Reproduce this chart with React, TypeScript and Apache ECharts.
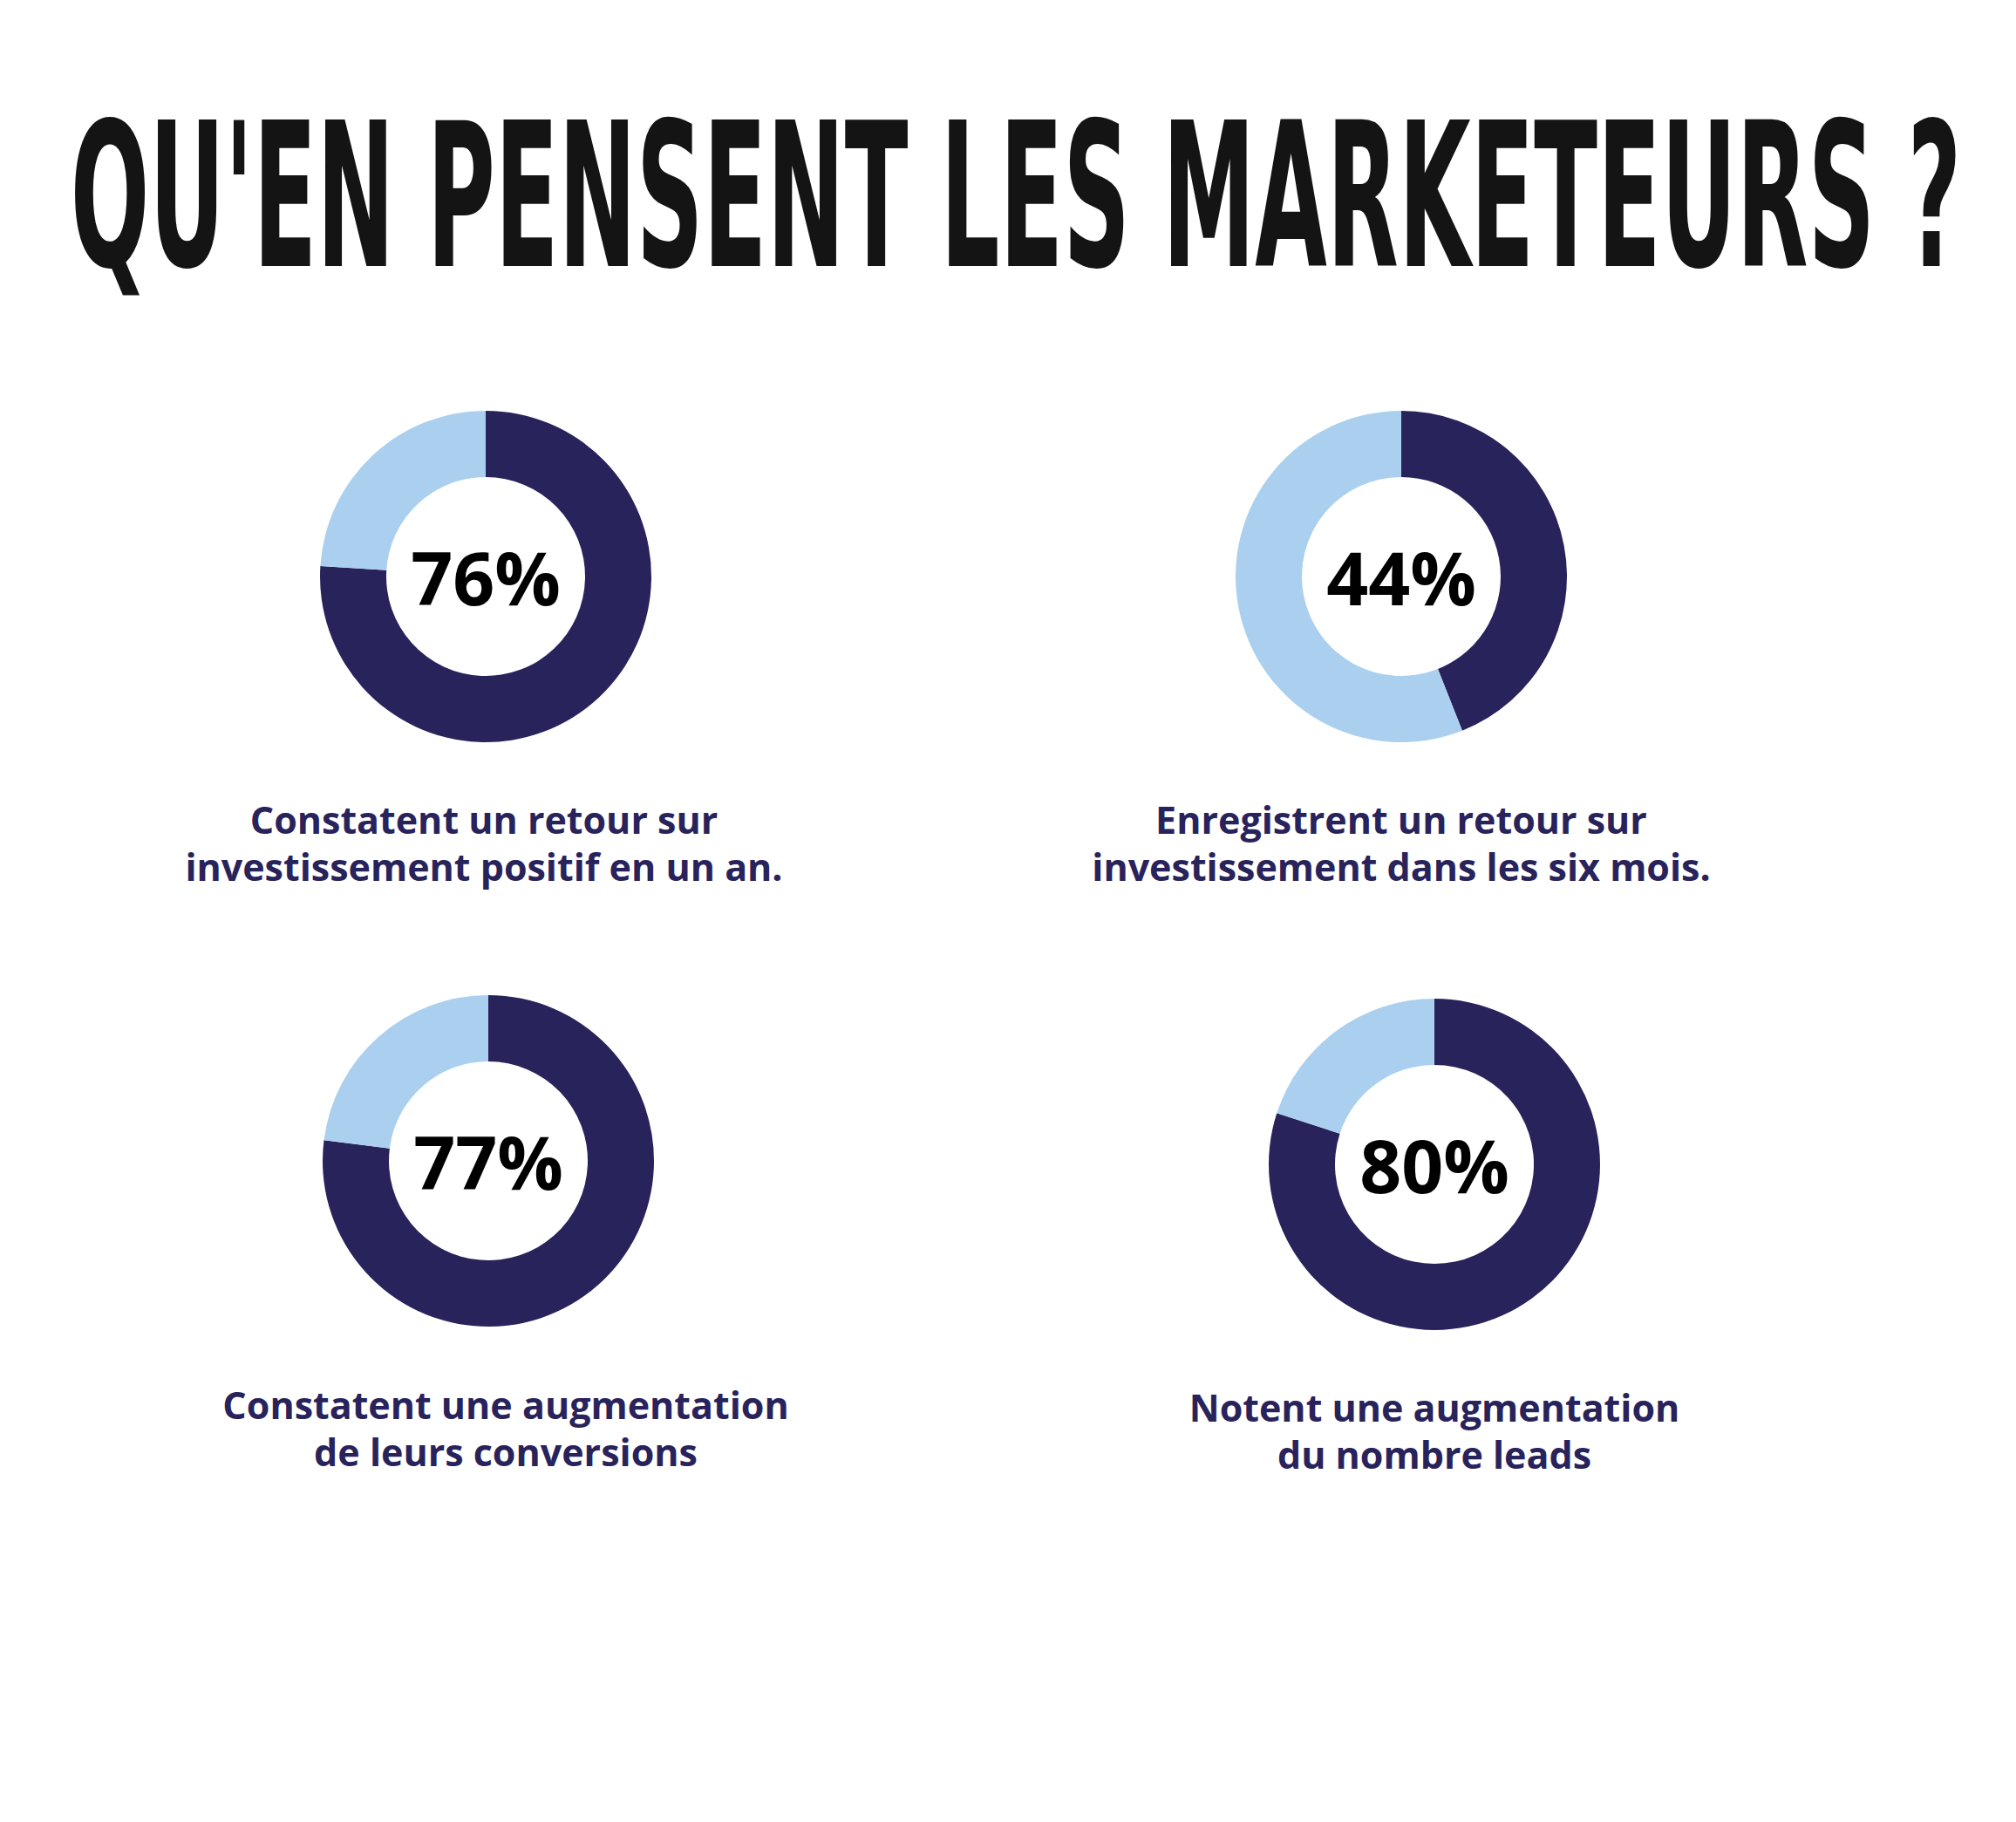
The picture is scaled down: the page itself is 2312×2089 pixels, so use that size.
import React, { useEffect, useRef } from "react";
import * as echarts from "echarts";

const TITLE = "QU'EN PENSENT LES MARKETEURS ?";
const PERCENTAGES = [76, 44, 77, 80];
const CAPTIONS = [
  ["Constatent un retour sur", "investissement positif en un an."],
  ["Enregistrent un retour sur", "investissement dans les six mois."],
  ["Constatent une augmentation", "de leurs conversions"],
  ["Notent une augmentation", "du nombre leads"],
];

const DARK = "#29235c";
const LIGHT = "#abd0ef";

const W = 2312;
const H = 2089;
const CENTERS = [
  [557, 661],
  [1607, 661],
  [560, 1331],
  [1645, 1335],
];
const CAPTION_POS = [
  [555, 939],
  [1607, 939],
  [580, 1610],
  [1645, 1613],
];
const LINE_GAP = 54;

const TITLE_FONT = "bold 231px 'Liberation Sans Narrow', 'DejaVu Sans Condensed', Roboto, sans-serif";
const CAPTION_FONT = "bold 43px 'Open Sans', sans-serif";

function measure(text: string, font: string): number {
  const c = document.createElement("canvas").getContext("2d");
  if (!c) return 1;
  c.font = font;
  return c.measureText(text).width;
}

export default function App() {
  const ref = useRef<HTMLDivElement>(null);
  useEffect(() => {
    if (!ref.current) return;
    const chart = echarts.init(ref.current, undefined, { renderer: "svg" });
    const titleTarget = 2168;
    const titleScale = titleTarget / measure(TITLE, TITLE_FONT);

    const series = PERCENTAGES.map((p, i) => ({
      type: "pie",
      center: CENTERS[i],
      radius: [114, 190],
      startAngle: 90,
      clockwise: true,
      silent: true,
      avoidLabelOverlap: false,
      label: { show: false },
      labelLine: { show: false },
      emphasis: { disabled: true },
      itemStyle: { borderWidth: 0 },
      data: [
        {
          value: p,
          itemStyle: { color: DARK },
          label: {
            show: true,
            position: "center",
            formatter: "{c}%",
            fontSize: 84,
            fontWeight: "bold",
            fontFamily: "'Open Sans', sans-serif",
            color: "#000000",
          },
        },
        { value: 100 - p, itemStyle: { color: LIGHT }, label: { show: false } },
      ],
    }));

    const graphics: any[] = [
      {
        type: "text",
        x: 1165,
        y: 225,
        scaleX: titleScale,
        scaleY: 1,
        style: {
          text: TITLE,
          font: TITLE_FONT,
          fill: "#141414",
          align: "center",
          verticalAlign: "middle",
        },
      },
    ];
    CAPTIONS.forEach((lines, i) => {
      lines.forEach((line, j) => {
        graphics.push({
          type: "text",
          x: CAPTION_POS[i][0],
          y: CAPTION_POS[i][1] + j * LINE_GAP,
          style: {
            text: line,
            font: CAPTION_FONT,
            fill: DARK,
            align: "center",
            verticalAlign: "middle",
          },
        });
      });
    });

    chart.setOption({
      animation: false,
      backgroundColor: "#ffffff",
      series,
      graphic: graphics,
    });
    return () => chart.dispose();
  }, []);
  return (
    <div
      ref={ref}
      style={{ position: "absolute", left: 0, top: 0, width: W, height: H }}
    />
  );
}
